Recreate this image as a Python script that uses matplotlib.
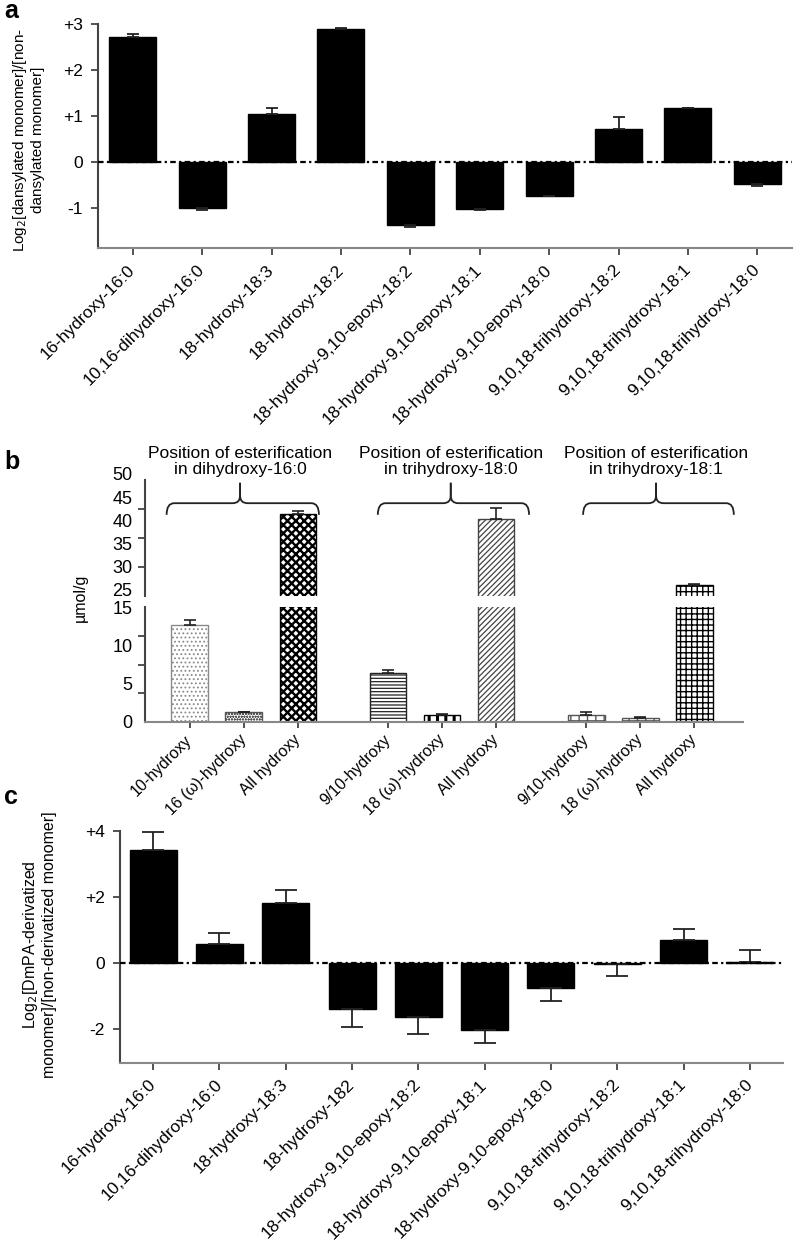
import matplotlib
matplotlib.use("Agg")
import matplotlib.pyplot as plt
from matplotlib.path import Path
from matplotlib.patches import PathPatch
from matplotlib.transforms import ScaledTranslation
import numpy as np

plt.rcParams["font.family"] = ["Liberation Sans", "DejaVu Sans"]
plt.rcParams["axes.unicode_minus"] = False

# ---------------------------------------------------------------------------
# Data
# ---------------------------------------------------------------------------
monomers = [
    "16-hydroxy-16:0", "10,16-dihydroxy-16:0", "18-hydroxy-18:3",
    "18-hydroxy-18:2", "18-hydroxy-9,10-epoxy-18:2", "18-hydroxy-9,10-epoxy-18:1",
    "18-hydroxy-9,10-epoxy-18:0", "9,10,18-trihydroxy-18:2",
    "9,10,18-trihydroxy-18:1", "9,10,18-trihydroxy-18:0",
]
monomers_c = list(monomers)
monomers_c[3] = "18-hydroxy-182"

a_vals = [2.72, -1.00, 1.04, 2.90, -1.37, -1.03, -0.74, 0.71, 1.17, -0.48]
a_err = [0.06, 0.04, 0.13, 0.02, 0.04, 0.01, 0.01, 0.27, 0.01, 0.04]

c_vals = [3.41, 0.56, 1.82, -1.39, -1.65, -2.04, -0.77, -0.05, 0.68, 0.03]
c_err = [0.56, 0.35, 0.38, 0.57, 0.51, 0.38, 0.38, 0.34, 0.34, 0.37]

b_groups = ["dihydroxy-16:0", "trihydroxy-18:0", "trihydroxy-18:1"]
b_labels = [
    ["10-hydroxy", "16 (\u03c9)-hydroxy", "All hydroxy"],
    ["9/10-hydroxy", "18 (\u03c9)-hydroxy", "All hydroxy"],
    ["9/10-hydroxy", "18 (\u03c9)-hydroxy", "All hydroxy"],
]
b_vals = [[12.7, 1.3, 42.7], [6.4, 0.95, 41.5], [0.87, 0.52, 27.4]]
b_err = [[0.6, 0.05, 0.7], [0.4, 0.15, 2.4], [0.4, 0.15, 0.2]]

# ---------------------------------------------------------------------------
# Style helpers
# ---------------------------------------------------------------------------
SPINE = "#444444"
TICK_FS = 12.5
LABEL_FS = 11.5


def one_sided(vals, errs):
    vals = np.asarray(vals, float)
    errs = np.asarray(errs, float)
    lower = np.where(vals < 0, errs, 0.0)
    upper = np.where(vals >= 0, errs, 0.0)
    return [lower, upper]


def style_axes(ax, bottom=True):
    for s in ("top", "right"):
        ax.spines[s].set_visible(False)
    ax.spines["left"].set_color(SPINE)
    ax.spines["left"].set_linewidth(1.5)
    ax.spines["bottom"].set_color("#888888")
    ax.spines["bottom"].set_linewidth(1.5)
    if not bottom:
        ax.spines["bottom"].set_visible(False)
    ax.tick_params(axis="both", colors=SPINE, width=1.3, length=5,
                   labelcolor="black", labelsize=TICK_FS)


def log_panel(ax, labels, vals, errs, ylim, yticks, ytl, capsize, width):
    x = np.arange(len(vals))
    ax.bar(x, vals, width=width, color="black", edgecolor="black", zorder=2)
    ax.errorbar(x, vals, yerr=one_sided(vals, errs), fmt="none",
                ecolor="#222222", elinewidth=1.3, capsize=capsize,
                capthick=1.3, zorder=3)
    ax.axhline(0, color="black", lw=1.6, ls=(0, (2.5, 1.5, 1, 1.5)), zorder=4)
    ax.set_xlim(-0.5, 9.5)
    ax.set_ylim(*ylim)
    ax.set_yticks(yticks, ytl)
    ax.set_xticks(x)
    ax.set_xticklabels(labels, rotation=45, ha="right", va="center",
                       rotation_mode="anchor", fontsize=LABEL_FS)
    style_axes(ax)
    ax.tick_params(axis="x", pad=9)
    ax.tick_params(axis="y", pad=6)


fig = plt.figure(figsize=(7.97, 12.5), dpi=100)
W, H = 797.0, 1250.0


def px_axes(x0, y0, x1, y1):
    return fig.add_axes([x0 / W, 1 - y1 / H, (x1 - x0) / W, (y1 - y0) / H])


# ---------------------------------------------------------------------------
# Panel a
# ---------------------------------------------------------------------------
ax_a = px_axes(98, 24, 792, 248)
log_panel(ax_a, monomers, a_vals, a_err, (-1.87, 3.0),
          [3, 2, 1, 0, -1], ["+3", "+2", "+1", "0", "-1"], 4.5, 0.68)
fig.text(28 / W, 1 - 140 / H,
         "Log$_2$[dansylated monomer]/[non-\ndansylated monomer]",
         rotation=90, ha="center", va="center", fontsize=11,
         multialignment="center", linespacing=1.2)
fig.text(4 / W, 1 - 11 / H, "a", fontsize=18, fontweight="bold",
         ha="left", va="center")

# ---------------------------------------------------------------------------
# Panel b (broken axis)
# ---------------------------------------------------------------------------
ax_bu = px_axes(145, 480, 743, 596)
ax_bl = px_axes(145, 607, 743, 722)

hatches = [
    [("....", "#8a8a8a", 0.8), ("oooooo", "#555555", 0.6), ("xxxx", "black", 1.7)],
    [("-----", "#222222", 0.9), ("||", "black", 2.2), ("//////", "#444444", 0.9)],
    [("++", "#555555", 1.0), ("++", "#555555", 1.0), ("+++", "black", 1.0)],
]

gap = 3.67
tick_x, tick_l = [], []
for g in range(3):
    for k in range(3):
        xpos = g * gap + k
        tick_x.append(xpos)
        tick_l.append(b_labels[g][k])
        h, ec, lw = hatches[g][k]
        v = b_vals[g][k]
        e = b_err[g][k]
        for ax in (ax_bu, ax_bl):
            with plt.rc_context({"hatch.linewidth": lw}):
                ax.bar(xpos, v, width=0.68, color="white", edgecolor=ec,
                       hatch=h, linewidth=1.0, zorder=2)
            ax.errorbar(xpos, v, yerr=[[0], [e]], fmt="none",
                        ecolor="#222222", elinewidth=1.2, capsize=4.5,
                        capthick=1.2, zorder=3)

for ax in (ax_bu, ax_bl):
    ax.set_xlim(-0.83, 10.24)

ax_bu.set_ylim(25, 50)
ax_bl.set_ylim(0, 15)
style_axes(ax_bu, bottom=False)
style_axes(ax_bl)
ax_bu.set_xticks([])

ax_bu.set_yticks([50, 45, 40, 35, 30, 25], ["50", "45", "40", "35", "30", "25"])
ax_bu.set_yticks([25, 31.25, 37.5, 43.75, 50], minor=True)
ax_bu.tick_params(axis="y", which="major", length=0, pad=9, labelsize=13)
ax_bu.tick_params(axis="y", which="minor", length=5, width=1.3, colors=SPINE)
# upper-segment labels sit a little high in the original figure
for lab in ax_bu.get_yticklabels():
    lab.set_transform(lab.get_transform()
                      + ScaledTranslation(0, 6 / 100, fig.dpi_scale_trans))

ax_bl.set_yticks([0, 5, 10, 15], ["0", "5", "10", "15"])
ax_bl.set_yticks([0, 3.75, 7.5, 11.25, 15], minor=True)
ax_bl.tick_params(axis="y", which="major", length=0, pad=9, labelsize=13)
ax_bl.tick_params(axis="y", which="minor", length=5, width=1.3, colors=SPINE)

ax_bl.set_xticks(tick_x)
ax_bl.set_xticklabels(tick_l, rotation=45, ha="right", va="center",
                      rotation_mode="anchor", fontsize=LABEL_FS)
ax_bl.tick_params(axis="x", pad=7, length=4)

fig.text(80 / W, 1 - 598 / H, "\u00b5mol/g", rotation=90, ha="center",
         va="center", fontsize=11.5)
fig.text(4 / W, 1 - 462 / H, "b", fontsize=18, fontweight="bold",
         ha="left", va="center")

# curly brackets and captions over each group
brackets = [(-0.43, 2.39, 0.93), (3.48, 6.28, 4.83), (7.28, 10.07, 8.63)]
y_low, y_mid, y_top = 42.5, 45.0, 49.4
r = 0.14
for (x0, x1, xc), name in zip(brackets, b_groups):
    for a, sgn in ((x0, 1), (x1, -1)):
        verts = [(a, y_low), (a, y_mid), (a + sgn * r, y_mid),
                 (xc - sgn * r, y_mid), (xc, y_mid), (xc, y_mid + 1.6),
                 (xc, y_top)]
        codes = [Path.MOVETO, Path.CURVE3, Path.CURVE3, Path.LINETO,
                 Path.CURVE3, Path.CURVE3, Path.LINETO]
        ax_bu.add_patch(PathPatch(Path(verts, codes), fill=False,
                                  edgecolor="#222222", lw=1.3,
                                  clip_on=False, zorder=5))
    ax_bu.text(xc, 54.0, "Position of esterification\nin " + name,
               ha="center", va="center", fontsize=12.5, linespacing=1.15,
               clip_on=False)

# ---------------------------------------------------------------------------
# Panel c
# ---------------------------------------------------------------------------
ax_c = px_axes(120, 830.7, 783, 1062.7)
log_panel(ax_c, monomers_c, c_vals, c_err, (-3.03, 4.0),
          [4, 2, 0, -2], ["+4", "+2", "0", "-2"], 8, 0.71)
fig.text(39 / W, 1 - 945 / H,
         "Log$_2$[DmPA-derivatized\nmonomer]/[non-derivatized monomer]",
         rotation=90, ha="center", va="center", fontsize=11.5,
         multialignment="center", linespacing=1.2)
fig.text(4 / W, 1 - 797 / H, "c", fontsize=18, fontweight="bold",
         ha="left", va="center")

fig.savefig("out.png", dpi=100)
